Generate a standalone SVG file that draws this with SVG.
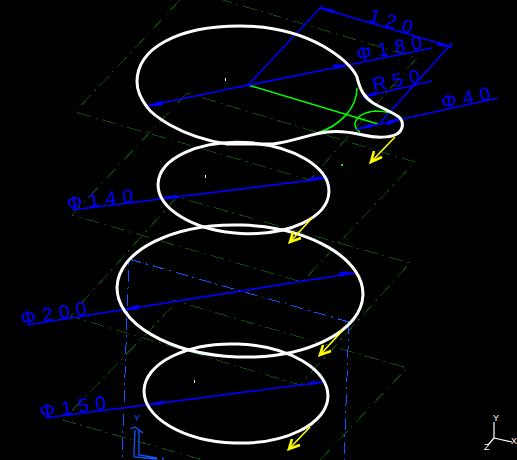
<svg xmlns="http://www.w3.org/2000/svg" width="517" height="460" viewBox="0 0 517 460">
<style>
.g{fill:none;stroke:#0c480c;stroke-width:1;stroke-dasharray:14 5 2 5}
.c{fill:none;stroke:#0a5aff;stroke-width:1;stroke-dasharray:12 5 2 5}
.d{fill:none;stroke:#0000ff;stroke-width:1.6}
.a{fill:#0000ff;stroke:#0000ff;stroke-width:1}
.n{fill:none;stroke:#00ff00;stroke-width:1.5}
.w{fill:none;stroke:#ffffff;stroke-width:3}
.y{fill:none;stroke:#ffff00;stroke-width:1.6}
.h{fill:none;stroke:#ffff00;stroke-width:2.6}
.t{font-family:"Liberation Sans",Arial,sans-serif;font-size:19px;letter-spacing:6.5px;fill:#0000ff}
.u{fill:none;stroke:#0a5aff;stroke-width:1.3}
.i{fill:none;stroke:#ffffff;stroke-width:1.2}
.l{font-family:"Liberation Sans",Arial,sans-serif;font-size:9px;fill:#ffffff}
.v{font-family:"Liberation Sans",Arial,sans-serif;font-size:9px;fill:#0a5aff}
</style>
<rect width="517" height="460" fill="#000000"/>
<g id="grid-planes" shape-rendering="crispEdges">
<path class="g" d="M180 0L75 112L310 180L417 58L223 0"/>
<path class="g" d="M187 93L72 215L302 282L415 162Z"/>
<path class="g" d="M177 197L70 316L300 385L410 263Z"/>
<path class="g" d="M172 307L63 420L203 460M320 460L407 368L172 300"/>
</g>
<g id="construction-lines" shape-rendering="crispEdges">
<path class="c" d="M349 322L129 259L122 460M349 322L344 460"/>
</g>
<g id="profile-geometry">
<path class="n" d="M248 85L378 124"/>
<path class="n" d="M357 88C357 108 340 126 317 133"/>
<path class="n" d="M360 132Q354 128 355 123Q358 113 375 111Q390 111 400 117"/>
<rect x="341" y="164" width="2" height="2" fill="#00ff00"/>
</g>
<g id="dimensions">
<path class="d" d="M240 87L432 48M147 106L248 85L323 5M320 8L452 47M452 43L380 123M363 97L432 81M357 129L498 98"/>
<path class="d" d="M72 210L329 178M27 325L354 273M45 418L323 382"/>
<polygon class="a" points="147,106 162,101 162,105"/>
<polygon class="a" points="348,65 334,65 335,69"/>
<polygon class="a" points="320,8 334,10 333,13"/>
<polygon class="a" points="452,47 438,42 437,45"/>
<polygon class="a" points="363,97 376,92 376,95"/>
<polygon class="a" points="357,129 372,124 372,127"/>
<polygon class="a" points="403,118 388,121 388,125"/>
<polygon class="a" points="162,198 177,195 177,198"/>
<polygon class="a" points="325,177 310,178 310,181"/>
<polygon class="a" points="124,310 138,305 138,309"/>
<polygon class="a" points="354,273 340,272 340,276"/>
<polygon class="a" points="147,405 163,401 163,404"/>
<polygon class="a" points="323,382 310,382 310,385"/>
</g>
<g id="labels">
<text class="t" transform="translate(368 21) rotate(17)">120</text>
<text class="t" transform="translate(358 61) rotate(-11)">Φ180</text>
<text class="t" transform="translate(374 91) rotate(-11)">R50</text>
<text class="t" transform="translate(443 109) rotate(-11)">Φ40</text>
<text class="t" transform="translate(68 210) rotate(-7)">Φ140</text>
<text class="t" transform="translate(22 325) rotate(-9)">Φ200</text>
<text class="t" transform="translate(41 418) rotate(-8)">Φ150</text>
</g>
<g id="profile-top">
<path class="w" d="M137 82C137 48 178 26 240 26C270 26 298 32 323 46C340 56 352 66 357 77C360 90 364 97 373 103C385 110 395 113 400 118C404 123 403 130 397 134C390 138 375 138 363 135C350 132 335 131 327 132C310 134 295 141 273 144L227 144C208 141 186 134 170 125C158 118 151 113 147 107C141 99 137 90 137 82Z"/>
</g>
<g id="ring-140">
<ellipse class="w" cx="243.500" cy="188" rx="85.500" ry="45.500" transform="rotate(3 243.500 188)"/>
</g>
<g id="ring-200">
<ellipse class="w" cx="240" cy="291" rx="123" ry="66" transform="rotate(2 240 291)"/>
</g>
<g id="ring-150">
<ellipse class="w" cx="236" cy="393.500" rx="92" ry="49.500" transform="rotate(2 236 393.500)"/>
</g>
<g id="center-ticks" fill="#ffffff">
<rect x="225" y="78" width="1" height="3"/>
<rect x="205" y="175" width="1" height="3"/>
<rect x="194" y="380" width="1" height="3"/>
</g>
<g id="direction-arrows">
<path class="y" d="M395 137L370 163"/>
<path class="h" d="M374 151L371 162L382 157"/>
<path class="y" d="M312 218L289 243"/>
<path class="h" d="M293 232L290 242L301 238"/>
<path class="y" d="M343 330L319 356"/>
<path class="h" d="M323 345L320 355L331 351"/>
<path class="y" d="M310 427L288 450"/>
<path class="h" d="M292 439L289 449L300 445"/>
</g>
<g id="ucs-icon">
<path class="u" d="M130 429L135 427L143 433M135 430L134 452V457L157 459M139 430V455L157 458M163 457V460"/>
<text class="v" x="134" y="421">Y</text>
</g>
<g id="axis-triad">
<path class="i" d="M494 438V422M494 438L512 442M494 438L488 445"/>
<text class="l" x="493" y="421">Y</text>
<text class="l" x="511" y="444">X</text>
<text class="l" x="484" y="450">Z</text>
</g>
</svg>
